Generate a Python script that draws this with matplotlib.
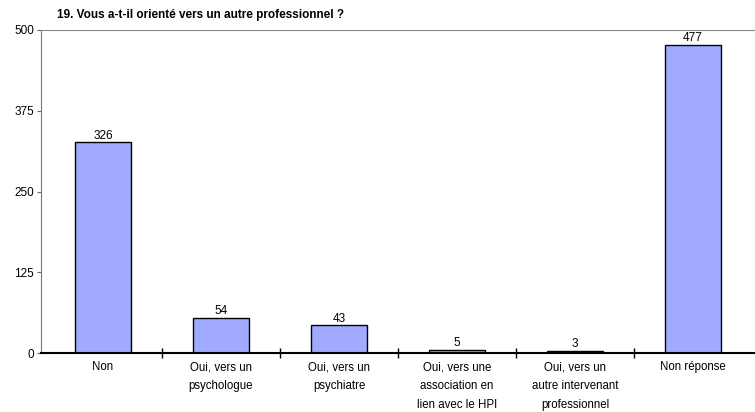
import matplotlib.pyplot as plt
import numpy as np

plt.rcParams['font.family'] = ['Liberation Sans', 'DejaVu Sans']

categories = ["Non", "Oui, vers un\npsychologue", "Oui, vers un\npsychiatre",
              "Oui, vers une\nassociation en\nlien avec le HPI",
              "Oui, vers un\nautre intervenant\nprofessionnel", "Non réponse"]
values = [326, 54, 43, 5, 3, 477]
yticks = [0, 125, 250, 375, 500]

fig = plt.figure(figsize=(7.55, 4.12), dpi=100)
ax = fig.add_axes([41/755, 59/412, 714/755, 323/412])

x = np.arange(len(categories))
bars = ax.bar(x, values, width=0.48, color="#a0aaff", edgecolor="black", linewidth=1.0, zorder=2)
for xi, v in zip(x, values):
    ax.annotate(str(v), (xi, v), xytext=(0, 0.5), textcoords="offset points",
                ha="center", va="bottom", fontsize=8.5)

ax.set_xlim(-0.525, 5.525)
ax.set_ylim(0, 500)
ax.set_yticks(yticks)
ax.set_xticks(x)
ax.set_xticklabels(categories, fontsize=8.3, linespacing=1.75)
ax.set_xticks(x[:-1] + 0.5, minor=True)
ax.tick_params(axis="x", which="major", length=0, pad=6)
ax.tick_params(axis="x", which="minor", direction="inout", length=7, width=1, color="black")
ax.tick_params(axis="y", labelsize=8.5, length=3, color="#666666", pad=2)

ax.spines["right"].set_visible(False)
ax.spines["top"].set_color("#888888")
ax.spines["left"].set_color("#777777")
ax.spines["bottom"].set_color("black")
ax.spines["bottom"].set_linewidth(1.5)

fig.text(57/755, 1 - 15/412, "19. Vous a-t-il orienté vers un autre professionnel ?",
         fontsize=8.5, fontweight="bold", va="center", ha="left")

fig.savefig("out.png", dpi=100)
